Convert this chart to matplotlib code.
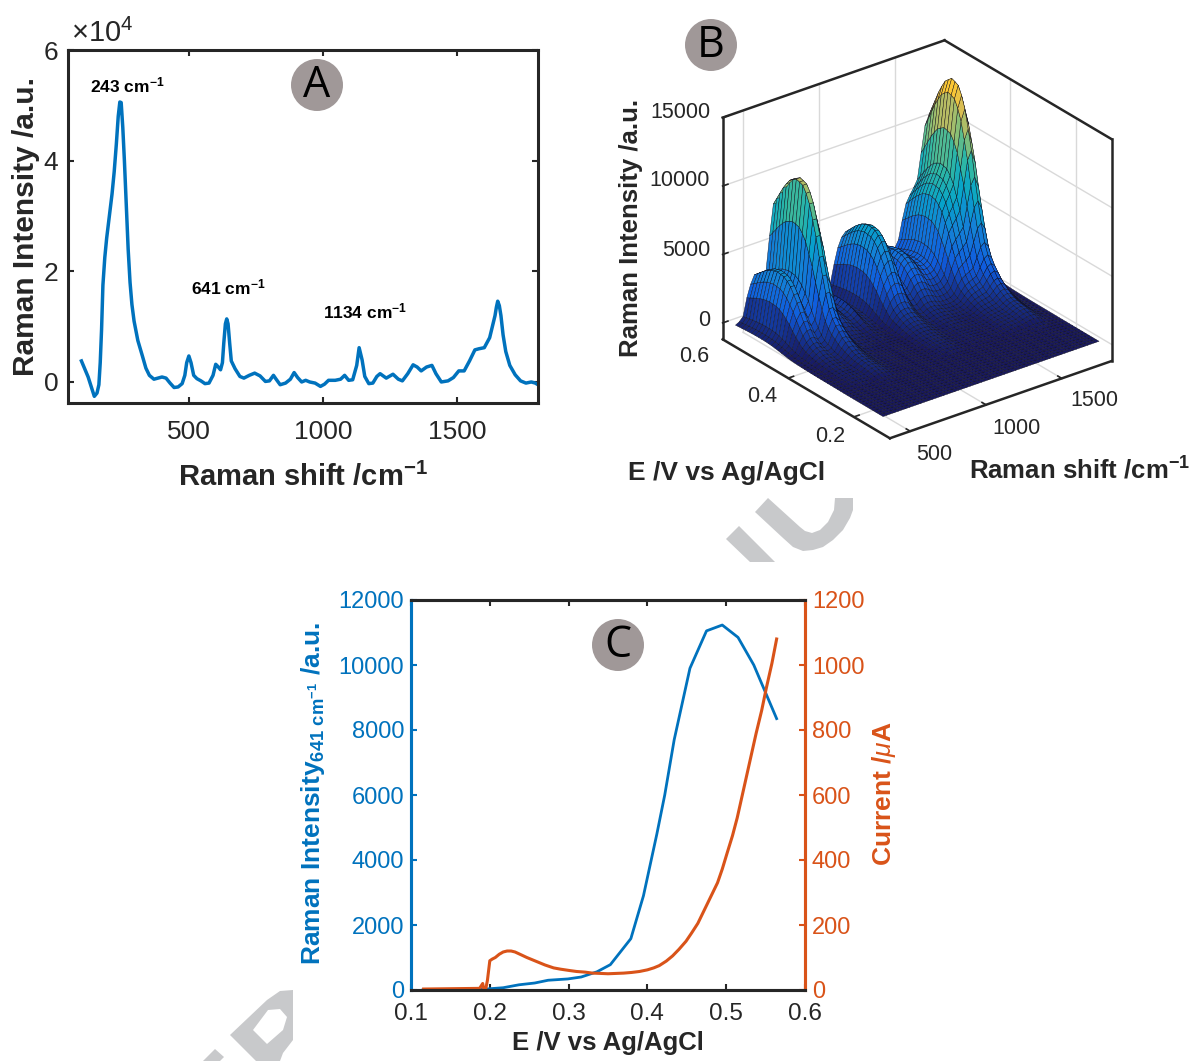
import numpy as np
import matplotlib
matplotlib.use('Agg')
import matplotlib.pyplot as plt
from matplotlib.colors import LinearSegmentedColormap, Normalize
from matplotlib.patches import Ellipse, Polygon

plt.rcParams['font.family'] = ['Liberation Sans', 'DejaVu Sans']
plt.rcParams['mathtext.fontset'] = 'custom'
plt.rcParams['mathtext.rm'] = 'Liberation Sans'
plt.rcParams['mathtext.bf'] = 'Liberation Sans:bold'
plt.rcParams['mathtext.it'] = 'Liberation Sans:italic'

W, H = 1195, 1061
DARK = '#262626'
BLUE = '#0072BD'
ORANGE = '#D95319'

# panel A, spectrum
shift_a = [100, 125, 148, 158, 165, 170, 175, 180, 187, 194, 204, 214, 222, 230, 237, 243, 248, 254, 260, 267, 274,
           281, 288, 296, 310, 327, 340, 353,
           370, 385, 400, 415, 430, 445, 460, 475, 485, 492, 500, 508, 518, 530, 545, 560, 575, 590, 600, 608, 618,
           625, 630, 636, 641, 646, 652, 658,
           672, 690, 705, 725, 745, 765, 785, 800, 815, 825, 840, 860, 878, 892, 905, 920, 935, 950, 970,
           990, 1005, 1020, 1045, 1065, 1080, 1095, 1110, 1125, 1134, 1145, 1155, 1170, 1185, 1200, 1212, 1235,
           1260, 1280, 1295, 1315, 1335, 1350, 1365, 1385, 1405, 1420, 1440, 1465, 1485, 1505, 1525, 1545, 1565,
           1580, 1600, 1620, 1640,
           1645, 1650, 1656, 1662, 1670, 1680, 1695, 1715, 1735, 1755, 1775, 1790, 1800]
intensity_a = [0.38, 0.09, -0.26, -0.2, -0.05, 0.35, 0.95, 1.75, 2.25, 2.6, 3.0, 3.4, 3.8, 4.3, 4.8, 5.06, 5.05, 4.6,
               4.0, 3.2, 2.4, 1.8, 1.4, 1.1, 0.75, 0.47, 0.25, 0.12,
               0.05, 0.07, 0.09, 0.07, -0.02, -0.1, -0.09, -0.03, 0.12, 0.35, 0.47, 0.35, 0.12, 0.06, 0.02, -0.03,
               -0.02, 0.12, 0.32, 0.28, 0.22, 0.35, 0.7, 1.05, 1.14, 1.05, 0.7, 0.38,
               0.24, 0.1, 0.07, 0.12, 0.16, 0.11, 0.01, 0.02,
               0.12, 0.05, -0.05, -0.02, 0.05, 0.17, 0.08, 0.0, 0.03, 0.0, -0.02, -0.08, -0.04, 0.03, 0.03, 0.05,
               0.12, 0.03, 0.04, 0.3, 0.62, 0.4, 0.1, -0.03, -0.02, 0.1, 0.15, 0.07, 0.14, 0.05, 0.02, 0.15, 0.31,
               0.27, 0.2, 0.27, 0.3, 0.15, 0.0, 0.02, 0.08, 0.2, 0.2, 0.38, 0.58, 0.6, 0.62, 0.8, 1.2,
               1.35, 1.46, 1.38, 1.2, 0.85, 0.55, 0.3, 0.13, 0.02, -0.02, 0.0, -0.02, -0.05]

# panel C, Raman intensity and current against potential
potential_raman = [0.115, 0.135, 0.155, 0.175, 0.195, 0.217, 0.237, 0.257, 0.274, 0.299, 0.316, 0.336, 0.353,
                   0.379, 0.395, 0.412, 0.422, 0.434, 0.454, 0.475, 0.495, 0.515, 0.535, 0.564]
raman_641 = [0, 0, 5, 10, 30, 70, 160, 215, 300, 340, 400, 560, 780, 1580, 2900, 4800, 6000, 7700, 9900, 11050,
             11230, 10850, 10000, 8350]
potential_cv = [0.116, 0.187, 0.191, 0.192, 0.195, 0.197, 0.2, 0.203, 0.207, 0.212, 0.217, 0.222, 0.227, 0.232,
                0.24, 0.247, 0.255, 0.262, 0.27, 0.281, 0.29, 0.301, 0.31, 0.321, 0.33, 0.341, 0.35, 0.36, 0.37,
                0.38, 0.39, 0.4, 0.408, 0.415, 0.424, 0.432, 0.44, 0.449, 0.456, 0.464, 0.47, 0.476, 0.482, 0.489,
                0.495, 0.501, 0.508, 0.514, 0.52, 0.526, 0.532, 0.538, 0.545, 0.551, 0.558, 0.564]
current = [3, 5, 20, 5, 5, 30, 90, 95, 100, 110, 117, 120, 120, 117, 108, 100, 92, 85, 77, 68, 64, 60, 57, 55, 52,
           51, 50, 51, 52, 54, 57, 62, 68, 75, 89, 105, 125, 150, 175, 205, 235, 265, 295, 330, 372, 420, 475, 530,
           595, 660, 725, 790, 860, 930, 1005, 1080]

# panel B, rows of the surface and spectrum at the potential of the maximum
potential_b = [0.115, 0.125, 0.135, 0.145, 0.155, 0.165, 0.175, 0.185, 0.195, 0.205, 0.215, 0.225, 0.235, 0.245,
               0.255, 0.265, 0.275, 0.285, 0.295, 0.305, 0.315, 0.325, 0.335, 0.345, 0.355, 0.365, 0.375, 0.385,
               0.395, 0.405, 0.415, 0.425, 0.435, 0.445, 0.455, 0.465, 0.475, 0.485, 0.495, 0.505, 0.515, 0.525,
               0.535, 0.545, 0.555, 0.565]
raman_b = [0, 0, 0, 0, 5, 5, 10, 20, 30, 50, 70, 110, 150, 300, 380, 450, 520, 560, 600, 650, 720, 850, 1000, 1200,
           1400, 1700, 2000, 2400, 3000, 4000, 5150, 6400, 7800, 8900, 9950, 10600, 11050, 11150, 11230, 11050,
           10850, 10450, 10000, 9450, 8900, 8350]
shift_b = [375, 400, 425, 450, 475, 500, 525, 550, 575, 600, 625, 650, 675, 700, 725, 750, 775, 800, 825, 850,
           875, 900, 925, 950, 975, 1000, 1025, 1050, 1075, 1100, 1125, 1150, 1175, 1200, 1225, 1250, 1275, 1300,
           1325, 1350, 1375, 1400, 1425, 1450, 1475, 1500, 1525, 1550, 1575, 1600, 1625, 1650, 1675, 1700, 1725,
           1750, 1775, 1800]
spectrum_b = [400, 600, 1000, 2700, 3900, 4700, 4700, 3700, 4500, 8000, 11000, 11000, 9500, 6500, 3500, 2000,
              1500, 1500, 1200, 900, 1000, 1300, 800, 600, 500, 1200, 3000, 4500, 5400, 5800, 5700, 5000, 3500,
              2200, 2200, 3000, 3300, 3300, 3000, 2500, 2300, 2300, 2500, 3200, 5000, 6500, 7200, 7800, 8500,
              11000, 13500, 14400, 13000, 8500, 4000, 1500, 400, 300]

parula = LinearSegmentedColormap.from_list('parula', ['#181860', '#0f5cdd', '#1481d6', '#06a4ca', '#2eb7a4',
                                                      '#87bf77', '#d1bb59', '#fec832', '#f9fb0e'])


def rect(left, top, right, bottom):
    return [left / W, 1 - bottom / H, (right - left) / W, (bottom - top) / H]


def ftext(x, y, s, **kw):
    kw.setdefault('color', DARK)
    kw.setdefault('ha', 'center')
    kw.setdefault('va', 'center')
    return fig.text(x / W, 1 - y / H, s, **kw)


def badge(x, y, letter):
    fig.add_artist(Ellipse((x / W, 1 - y / H), 52 / W, 52 / H, transform=fig.transFigure,
                           facecolor='#a09898', edgecolor='none', zorder=10))
    ftext(x, y + 1, letter, fontsize=31, color='black', family='Open Sans', zorder=11)


def watermark(points, color='#c8c9cb', z=0):
    fig.add_artist(Polygon([(x / W, 1 - y / H) for x, y in points], closed=True, transform=fig.transFigure,
                           facecolor=color, edgecolor='none', zorder=z))


fig = plt.figure(figsize=(W / 100, H / 100), dpi=100)

# watermark pieces left between the panels
watermark([(768, 498), (755, 512), (783, 538), (793, 547), (803, 551), (813, 550), (823, 547), (833, 540), (843, 530),
           (850, 518), (853, 510), (853, 498), (835, 498), (834, 510), (828, 522), (820, 530), (812, 533), (805, 531),
           (800, 527)])
watermark([(739, 526), (726, 539), (750, 562), (775, 562)])
watermark([(230, 1035), (267, 1000), (280, 991), (293, 990), (293, 1040), (283, 1053), (280, 1061), (256, 1061)])
watermark([(215, 1049), (203, 1061), (220, 1061), (224, 1057)])
watermark([(253, 1030), (268, 1010), (280, 1009), (287, 1017), (283, 1030), (267, 1044)], color='white', z=0.5)

# A
ax_a = fig.add_axes(rect(68, 50, 538, 403))
ax_a.plot(shift_a, intensity_a, color=BLUE, lw=2.5, solid_joinstyle='round')
ax_a.set_xlim(50, 1800)
ax_a.set_ylim(-0.38, 6)
ax_a.set_xticks([500, 1000, 1500])
ax_a.set_yticks([0, 2, 4, 6])
ax_a.tick_params(axis='x', direction='in', length=4, width=1.5, top=True, labelsize=19, labelcolor=DARK,
                 color=DARK, pad=12)
ax_a.tick_params(axis='y', direction='in', length=4, width=1.5, right=True, labelsize=19, labelcolor=DARK,
                 color=DARK, pad=7)
for s in ax_a.spines.values():
    s.set_linewidth(2.2)
    s.set_color(DARK)
ftext(102, 33, r'$\times 10^4$', fontsize=21)
ftext(303, 477, r'Raman shift /cm$^{\mathbf{-1}}$', fontsize=21, fontweight='bold')
ftext(26, 227, 'Raman Intensity /a.u.', fontsize=21.5, fontweight='bold', rotation=90)
ftext(127, 85, r'243 cm$^{\mathbf{-1}}$', fontsize=12.5, fontweight='bold', color='black')
ftext(228, 287, r'641 cm$^{\mathbf{-1}}$', fontsize=12.5, fontweight='bold', color='black')
ftext(365, 311, r'1134 cm$^{\mathbf{-1}}$', fontsize=12.5, fontweight='bold', color='black')
badge(317, 85, 'A')

# C
ax_c = fig.add_axes(rect(411, 600, 805, 990))
ax_c.plot(potential_raman, raman_641, color=BLUE, lw=2)
ax_c.set_xlim(0.1, 0.6)
ax_c.set_ylim(0, 12000)
ax_c.set_xticks([0.1, 0.2, 0.3, 0.4, 0.5, 0.6])
ax_c.set_yticks(range(0, 12001, 2000))
ax_c.tick_params(axis='x', direction='in', length=4, width=1.5, top=True, labelsize=17.5, labelcolor=DARK,
                 color=DARK, pad=9.5)
ax_c.tick_params(axis='y', direction='in', length=4, width=1.5, labelsize=17, labelcolor=BLUE, color=BLUE, pad=5)
ax_r = ax_c.twinx()
ax_r.plot(potential_cv, current, color=ORANGE, lw=2.2, solid_joinstyle='round')
ax_r.set_ylim(0, 1200)
ax_r.set_yticks(range(0, 1201, 200))
ax_r.tick_params(axis='y', direction='in', length=4, width=1.5, labelsize=17, labelcolor=ORANGE, color=ORANGE,
                 pad=5)
for a in (ax_c, ax_r):
    for name, s in a.spines.items():
        s.set_linewidth(2.2)
        s.set_color(DARK)
    a.spines['left'].set_color(BLUE)
    a.spines['right'].set_color(ORANGE)
ftext(608, 1043, 'E /V vs Ag/AgCl', fontsize=18.5, fontweight='bold')
ftext(313, 794, r'Raman Intensity$_{\mathbf{641\ cm^{-1}}}$ /a.u.', fontsize=19, fontweight='bold', color=BLUE,
      rotation=90)
ftext(884, 794, r'Current /$\mu$A', fontsize=19, fontweight='bold', color=ORANGE, rotation=90)
badge(618, 645, 'C')

# B, each potential row scales the spectrum
x_grid, e_grid = np.meshgrid(shift_b, potential_b)
z_grid = np.outer(np.array(raman_b) / max(raman_b), spectrum_b)

ax_b = fig.add_axes(rect(636, 15.5, 1186, 475.5), projection='3d', computed_zorder=False)
ax_b.patch.set_alpha(0)
ax_b.set_proj_type('ortho')
ax_b.view_init(elev=27, azim=-127.5)
ax_b.set_box_aspect((281, 276, 250), zoom=0.98)
ax_b.set_axis_off()
x0, x1, e0, e1, z0, z1 = 366, 1830, 0.09, 0.6, -1200, 15000
ax_b.set_xlim(x0, x1)
ax_b.set_ylim(e0, e1)
ax_b.set_zlim(z0, z1)

grid = dict(color='#d9d9d9', lw=1.0, zorder=1)
for v in (500, 1000, 1500):
    ax_b.plot([v, v], [e1, e1], [z0, z1], **grid)
    ax_b.plot([v, v], [e0, e1], [z0, z0], **grid)
for v in (0.2, 0.4):
    ax_b.plot([x1, x1], [v, v], [z0, z1], **grid)
    ax_b.plot([x0, x1], [v, v], [z0, z0], **grid)
for v in (0, 5000, 10000):
    ax_b.plot([x0, x1], [e1, e1], [v, v], **grid)
    ax_b.plot([x1, x1], [e0, e1], [v, v], **grid)

colors = parula(Normalize(0, 15500)(z_grid))
ax_b.plot_surface(x_grid, e_grid, z_grid, facecolors=colors, rstride=1, cstride=1, shade=False,
                  edgecolor='#101020', linewidth=0.3, antialiased=True, zorder=2)

box = dict(color=DARK, lw=1.8, zorder=3)
ax_b.plot([x0, x0], [e1, e1], [z0, z1], **box)
ax_b.plot([x1, x1], [e0, e0], [z0, z1], **box)
ax_b.plot([x0, x1], [e1, e1], [z1, z1], **box)
ax_b.plot([x1, x1], [e0, e1], [z1, z1], **box)
ax_b.plot([x0, x0], [e0, e1], [z0, z0], **box)
ax_b.plot([x0, x1], [e0, e0], [z0, z0], **box)

for v in (500, 1000, 1500):
    ax_b.plot([v, v], [e0, e0 + 0.012], [z0, z0], color=DARK, lw=1.2, zorder=3)
for v in (0.2, 0.4):
    ax_b.plot([x0, x0 + 35], [v, v], [z0, z0], color=DARK, lw=1.2, zorder=3)
for v in (0, 5000, 10000, 15000):
    ax_b.plot([x0, x0 + 35], [e1, e1], [v, v], color=DARK, lw=1.2, zorder=3)

for v, y in (('15000', 112), ('10000', 181), ('5000', 251), ('0', 320)):
    ftext(710, y, v, fontsize=15.5, ha='right')
for v, x, y in (('0.6', 694, 356), ('0.4', 762, 397), ('0.2', 830, 437), ('500', 934, 455), ('1000', 1017, 428),
                ('1500', 1094, 401)):
    ftext(x, y, v, fontsize=15.5)
ftext(631, 228, 'Raman Intensity /a.u.', fontsize=18.5, fontweight='bold', rotation=90)
ftext(727, 473, 'E /V vs Ag/AgCl', fontsize=19, fontweight='bold')
ftext(1080, 471, r'Raman shift /cm$^{\mathbf{-1}}$', fontsize=18.5, fontweight='bold')
badge(711, 45, 'B')

fig.savefig('out.png', dpi=100)
